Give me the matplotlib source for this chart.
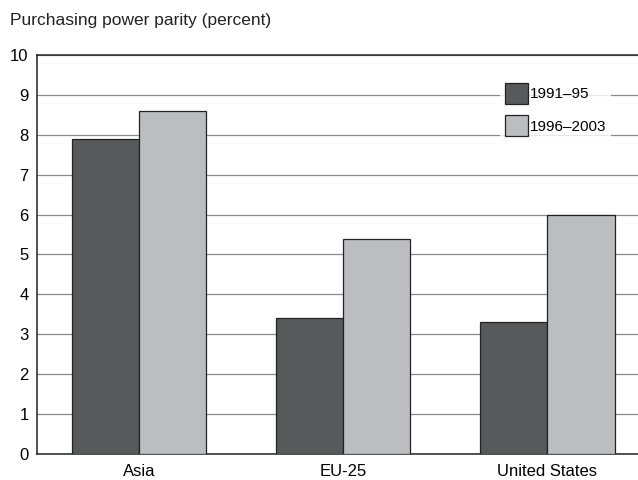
import numpy as np
import matplotlib.pyplot as plt
import matplotlib.patches as mpatches

regions = ["Asia", "EU-25", "United States"]
p1991_95 = [7.9, 3.4, 3.3]
p1996_2003 = [8.6, 5.4, 6.0]
series_labels = ["1991\u201395", "1996\u20132003"]

plt.rcParams['font.family'] = ['Liberation Sans Narrow', 'Liberation Sans', 'DejaVu Sans']

fig = plt.figure(figsize=(6.38, 4.8), dpi=100)
ax = fig.add_axes([37 / 638, 26 / 480, 601 / 638, 399 / 480])

x = np.arange(len(regions))
w = 0.33
dark = '#58595b'
light = '#bcbdc0'
ax.bar(x - w / 2, p1991_95, w, color=dark, edgecolor='#222222', linewidth=0.9, zorder=3)
ax.bar(x + w / 2, p1996_2003, w, color=light, edgecolor='#222222', linewidth=0.9, zorder=3)

ax.set_xlim(-0.5, 2.445)
ax.set_ylim(0, 10)
ax.set_yticks(range(0, 11))
ax.set_xticks(x)
ax.set_xticklabels(regions)
ax.tick_params(length=0, labelsize=12, pad=6)
ax.tick_params(axis='x', labelsize=12, pad=7)
ax.yaxis.grid(True, color='#8a8a8a', linewidth=0.9, zorder=0)
ax.set_axisbelow(True)

for s in ['left', 'bottom', 'top']:
    ax.spines[s].set_color('#222222')
    ax.spines[s].set_linewidth(1.1)
ax.spines['right'].set_visible(False)

handles = [mpatches.Patch(facecolor=dark, edgecolor='#222222', linewidth=0.9),
           mpatches.Patch(facecolor=light, edgecolor='#222222', linewidth=0.9)]
leg = ax.legend(handles, series_labels, loc='upper left',
                bbox_to_anchor=(500 / 638, 1 - 78 / 480), bbox_transform=fig.transFigure,
                frameon=True, facecolor='white', edgecolor='none', fancybox=False,
                fontsize=11, handlelength=1.5, handleheight=1.75, handletextpad=0.15,
                labelspacing=0.75, borderpad=0.3, borderaxespad=0)

fig.text(10 / 638, 1 - 20 / 480, "Purchasing power parity (percent)", fontsize=12.5,
         ha='left', va='center', color='#222222')

fig.savefig('out.png', dpi=100)
